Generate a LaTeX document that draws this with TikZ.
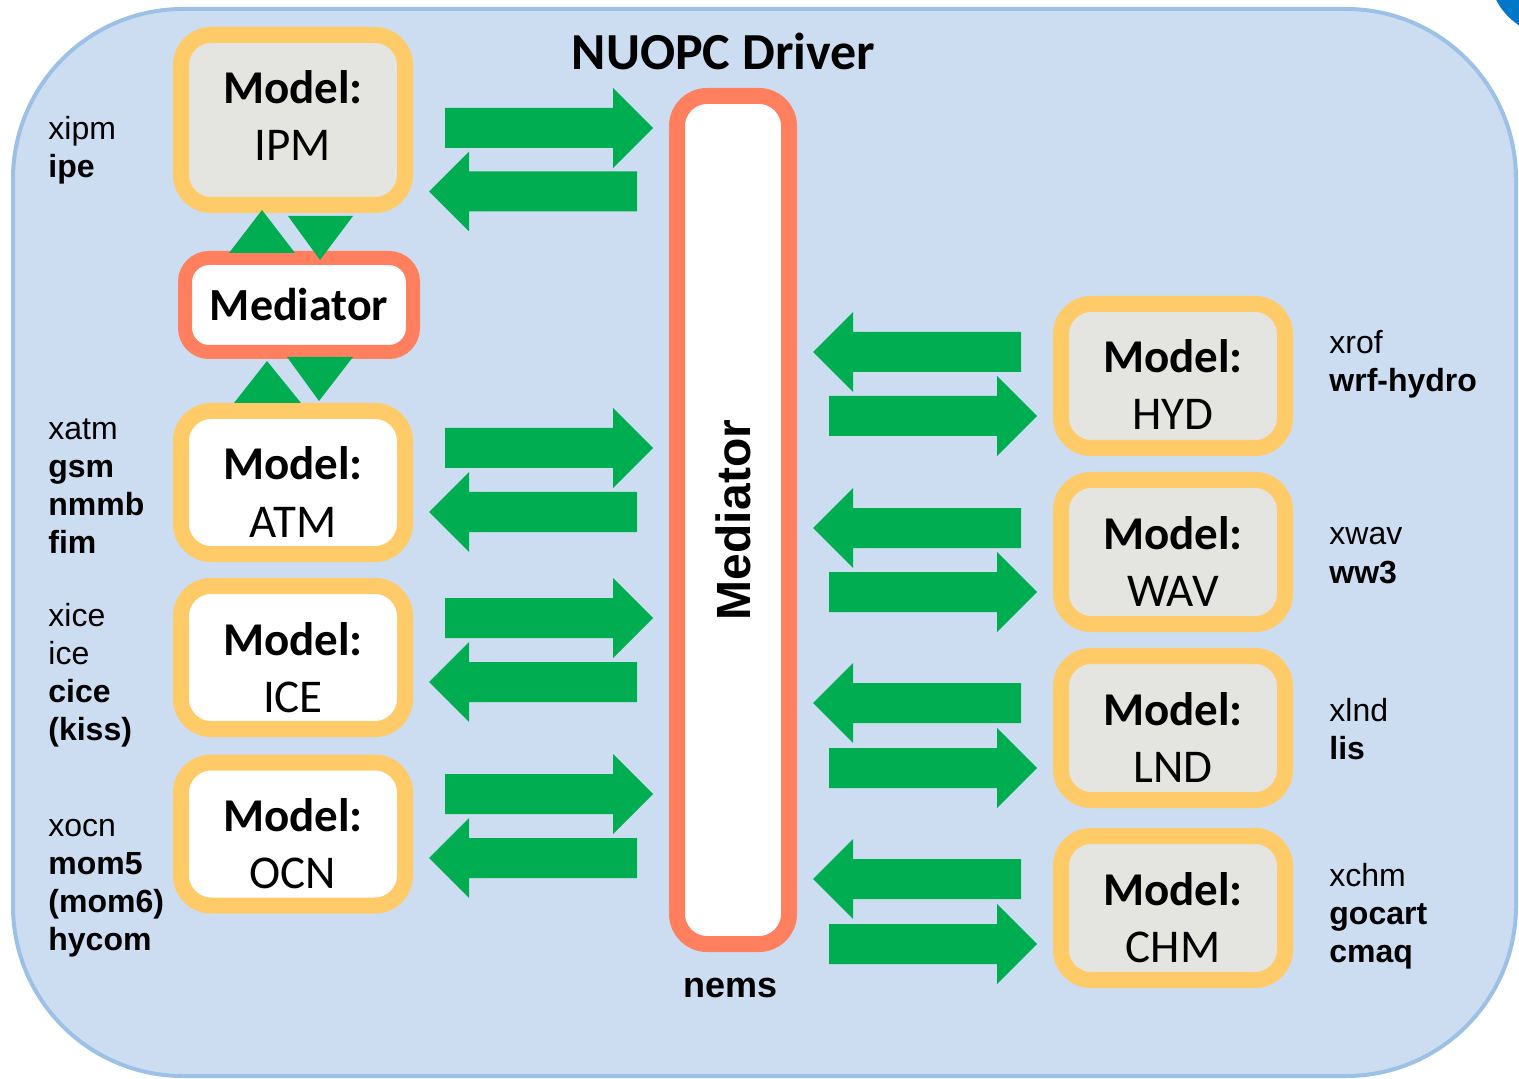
\documentclass[tikz,border=0pt]{standalone}
\usepackage{fontspec}
\setmainfont{Carlito}
\newfontfamily\arialf{Liberation Sans}
\definecolor{bgfill}{HTML}{CCDDF2}
\definecolor{bgline}{HTML}{9DC0E7}
\definecolor{orangec}{HTML}{FFCB69}
\definecolor{grayc}{HTML}{E4E5E0}
\definecolor{redc}{HTML}{FF7F5E}
\definecolor{greenc}{HTML}{00AE51}
\definecolor{bluec}{HTML}{0078C8}
\newcommand\rblk[3]{\fill[greenc] (#1,#3-20) -- (#2-40,#3-20) -- (#2-40,#3-40) -- (#2,#3) -- (#2-40,#3+40) -- (#2-40,#3+20) -- (#1,#3+20) -- cycle;}
\newcommand\lblk[3]{\fill[greenc] (#1,#3-20) -- (#2+40,#3-20) -- (#2+40,#3-40) -- (#2,#3) -- (#2+40,#3+40) -- (#2+40,#3+20) -- (#1,#3+20) -- cycle;}
\begin{document}
\begin{tikzpicture}[x=0.5pt,y=-0.5pt,
  modelbox/.style={draw=orangec, line width=8pt, rounded corners=15pt, minimum width=112pt, minimum height=71.5pt, inner sep=0pt},
  mtitle/.style={anchor=base, inner sep=0pt, font=\fontsize{23.5pt}{28pt}\selectfont\bfseries},
  mname/.style={anchor=base, inner sep=0pt, font=\fontsize{23.5pt}{28pt}\selectfont},
  sidelab/.style={anchor=base west, inner sep=0pt, font=\arialf\fontsize{16pt}{19pt}\selectfont},
  tri/.style={fill=greenc}
]
\useasboundingbox (0,0) rectangle (1519,1079);
% background
\draw[draw=bgline, fill=bgfill, line width=2pt, rounded corners=85pt] (13,9) rectangle (1516,1076);
\begin{scope}
\clip (0,0) rectangle (1519,1079);
\fill[bluec] (1555,-30) circle[radius=33pt];
\end{scope}

% title
\node[anchor=base, inner sep=0pt, font=\fontsize{26pt}{30pt}\selectfont\bfseries] (title) at (723.5,70) {NUOPC Driver};

% big mediator
\node[draw=redc, fill=white, line width=8pt, rounded corners=15pt, minimum width=424pt, minimum height=56pt, inner sep=0pt, rotate=90, font=\arialf\fontsize{24pt}{28pt}\selectfont\bfseries] (med) at (733,520) {Mediator};
\node[anchor=base, inner sep=0pt, font=\arialf\fontsize{18pt}{21pt}\selectfont\bfseries] (nems) at (730.5,997) {nems};

% left models
\node[modelbox, fill=grayc, minimum height=85pt] (ipm) at (293,120) {};
\node[modelbox, fill=white] (atm) at (293,482.5) {};
\node[modelbox, fill=white] (ice) at (293,657.5) {};
\node[modelbox, fill=white] (ocn) at (293,834) {};
% right models
\node[modelbox, fill=grayc, minimum height=72pt] (hyd) at (1173,376) {};
\node[modelbox, fill=grayc, minimum height=72pt] (wav) at (1173,552) {};
\node[modelbox, fill=grayc, minimum height=72pt] (lnd) at (1173,728) {};
\node[modelbox, fill=grayc, minimum height=72pt] (chm) at (1173,908) {};

\foreach \b/\n in {ipm/IPM, atm/ATM, ice/ICE, ocn/OCN, hyd/HYD, wav/WAV, lnd/LND, chm/CHM}{
  \node[mtitle] (\b-t) at ([yshift=-38.5pt]\b.north) {Model:};
  \node[mname] (\b-n) at ([yshift=-67pt]\b.north) {\n};
}

% small mediator
\node[draw=redc, fill=white, line width=7pt, rounded corners=12pt, minimum width=114pt, minimum height=47pt, inner sep=0pt, font=\fontsize{23pt}{28pt}\selectfont\bfseries] (meds) at (299,305) {Mediator};

% triangles
\fill[tri] (262,210) -- (229,253) -- (295,253) -- cycle;
\fill[tri] (288,216) -- (353,216) -- (320,260) -- cycle;
\fill[tri] (267,361) -- (234,403) -- (301,403) -- cycle;
\fill[tri] (287,357) -- (353,357) -- (319,401) -- cycle;

% block arrows left side
\rblk{445}{653}{128}
\lblk{637}{429}{191.5}
\rblk{445}{653}{448}
\lblk{637}{429}{512}
\rblk{445}{653}{618}
\lblk{637}{429}{682}
\rblk{445}{653}{794}
\lblk{637}{429}{858}
% block arrows right side
\lblk{1021}{813}{352}
\rblk{829}{1037}{416}
\lblk{1021}{813}{528}
\rblk{829}{1037}{592}
\lblk{1021}{813}{703}
\rblk{829}{1037}{768}
\lblk{1021}{813}{879}
\rblk{829}{1037}{944}

% side labels
\node[sidelab] (l-ipm) at (48,139.5) {\parbox[t]{120pt}{xipm\\\textbf{ipe}}};
\node[sidelab] (l-atm) at (48,440) {\parbox[t]{120pt}{xatm\\\textbf{gsm}\\\textbf{nmmb}\\\textbf{fim}}};
\node[sidelab] (l-ice) at (48,626) {\parbox[t]{120pt}{xice\\ice\\\textbf{cice}\\\textbf{(kiss)}}};
\node[sidelab] (l-ocn) at (48,836.5) {\parbox[t]{120pt}{xocn\\\textbf{mom5}\\\textbf{(mom6)}\\\textbf{hycom}}};
\node[sidelab] (l-hyd) at (1329,354) {\parbox[t]{120pt}{xrof\\\textbf{wrf-hydro}}};
\node[sidelab] (l-wav) at (1329,545) {\parbox[t]{120pt}{xwav\\\textbf{ww3}}};
\node[sidelab] (l-lnd) at (1329,721) {\parbox[t]{120pt}{xlnd\\\textbf{lis}}};
\node[sidelab] (l-chm) at (1329,886.5) {\parbox[t]{120pt}{xchm\\\textbf{gocart}\\\textbf{cmaq}}};
\end{tikzpicture}
\end{document}
